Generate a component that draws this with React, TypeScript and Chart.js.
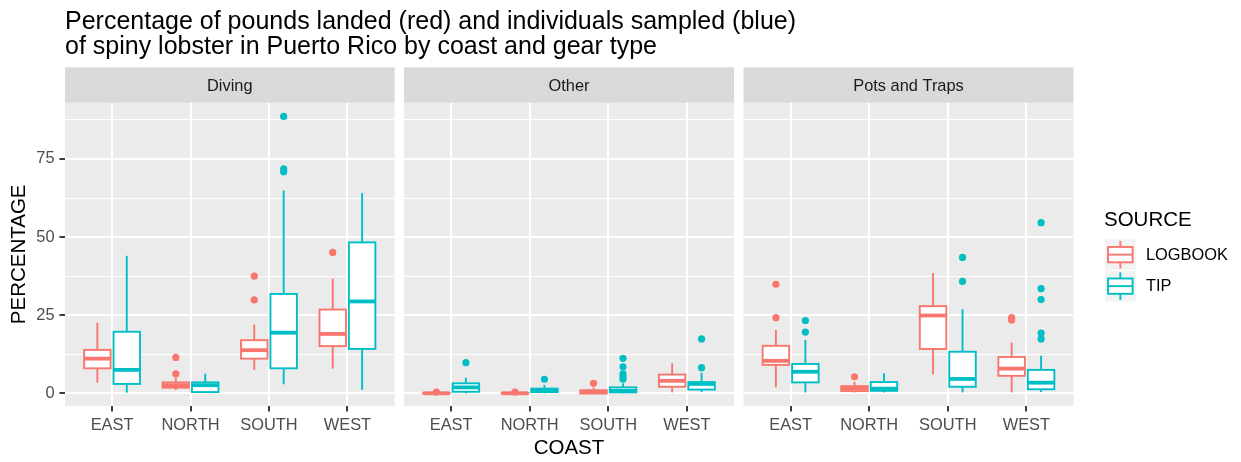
import { useEffect, useRef } from "react";
import { Chart, registerables } from "chart.js";

Chart.register(...registerables);

// ---------- text ----------
const TITLE_LINES = [
  "Percentage of pounds landed (red) and individuals sampled (blue)",
  "of spiny lobster in Puerto Rico by coast and gear type",
];
const COASTS = ["EAST", "NORTH", "SOUTH", "WEST"];
const GEARS = ["Diving", "Other", "Pots and Traps"];
const SOURCES = ["LOGBOOK", "TIP"];
const X_TITLE = "COAST";
const Y_TITLE = "PERCENTAGE";
const LEGEND_TITLE = "SOURCE";
const Y_MAJOR = [0, 25, 50, 75];
const Y_MINOR = [12.5, 37.5, 62.5, 87.5];

// ---------- data: [lower whisker, Q1, median, Q3, upper whisker] per coast ----------
const DIVING_LOGBOOK = [
  [3.4, 8.0, 11.1, 13.9, 22.6],
  [1.1, 1.8, 2.6, 3.5, 5.0],
  [7.5, 11.1, 13.8, 17.0, 22.0],
  [7.9, 15.1, 19.0, 26.8, 36.7],
];
const DIVING_LOGBOOK_OUTLIERS = [[], [11.5, 6.2], [37.5, 29.9], [45.1]];
const DIVING_TIP = [
  [0.2, 3.0, 7.5, 19.7, 44.0],
  [0.1, 0.4, 2.6, 3.5, 6.3],
  [2.9, 8.0, 19.4, 31.8, 64.9],
  [1.1, 14.2, 29.4, 48.3, 64.1],
];
const DIVING_TIP_OUTLIERS = [[], [], [88.6, 71.8, 70.9], []];

const OTHER_LOGBOOK = [
  [0, 0, 0.02, 0.1, 0.2],
  [0, 0, 0.02, 0.1, 0.2],
  [0, 0, 0.3, 1.0, 1.9],
  [0.3, 2.1, 4.0, 6.0, 9.6],
];
const OTHER_LOGBOOK_OUTLIERS = [[0.35], [0.35], [3.2], []];
const OTHER_TIP = [
  [0, 0.5, 1.9, 3.2, 5.0],
  [0, 0.4, 1.0, 1.5, 2.7],
  [0, 0.3, 0.8, 1.9, 3.2],
  [0.4, 1.2, 3.0, 3.6, 6.6],
];
const OTHER_TIP_OUTLIERS = [[9.8], [4.5], [11.2, 8.5, 6.2, 5.3, 4.5], [17.4, 8.2]];

const POTS_LOGBOOK = [
  [1.9, 9.1, 10.4, 15.2, 20.3],
  [0.3, 0.7, 1.5, 2.3, 3.7],
  [6.1, 14.2, 24.9, 27.9, 38.5],
  [0.3, 5.6, 7.9, 11.6, 16.2],
];
const POTS_LOGBOOK_OUTLIERS = [[34.9, 24.2], [5.3], [], [24.2, 23.5]];
const POTS_TIP = [
  [0.3, 3.5, 6.9, 9.4, 17.1],
  [0.3, 0.8, 1.5, 3.6, 6.4],
  [0.3, 2.1, 4.6, 13.3, 26.9],
  [0.4, 1.3, 3.4, 7.5, 12.0],
];
const POTS_TIP_OUTLIERS = [[23.3, 19.6], [], [43.5, 35.8], [54.6, 33.5, 30.0, 19.3, 17.4]];

const PANEL_STATS = [
  [DIVING_LOGBOOK, DIVING_TIP],
  [OTHER_LOGBOOK, OTHER_TIP],
  [POTS_LOGBOOK, POTS_TIP],
];
const PANEL_OUTLIERS = [
  [DIVING_LOGBOOK_OUTLIERS, DIVING_TIP_OUTLIERS],
  [OTHER_LOGBOOK_OUTLIERS, OTHER_TIP_OUTLIERS],
  [POTS_LOGBOOK_OUTLIERS, POTS_TIP_OUTLIERS],
];

// ---------- style / layout ----------
const FONT = '"Liberation Sans", Arial, Helvetica, sans-serif';
const COLORS = ["#F8766D", "#00BFC4"];
const W = 1241;
const H = 462;
const PANEL_X = [
  [65, 394.5],
  [404, 734],
  [743.5, 1073.5],
];
const PANEL_TOP = 102.7;
const STRIP_H = 35.4;
const X_AXIS_H = 56;
const Y_AXIS_W = 65;
const Y_MIN = -4.06;
const Y_MAX = 93.0;
const X_MIN = -0.6;
const X_MAX = 3.6;
const DODGE = [-0.1875, 0.1875];
const BOX_W = 0.3375;
const LW = 1.9;
const TICK_FONT = 16.4;
const AXIS_TITLE_FONT = 20.5;
const PLOT_TITLE_FONT = 25;
const POINT_R = 3.6;

function line(ctx: CanvasRenderingContext2D, x1: number, y1: number, x2: number, y2: number) {
  ctx.beginPath();
  ctx.moveTo(x1, y1);
  ctx.lineTo(x2, y2);
  ctx.stroke();
}

function drawLegend(ctx: CanvasRenderingContext2D) {
  ctx.save();
  ctx.fillStyle = "#000000";
  ctx.textAlign = "left";
  ctx.textBaseline = "alphabetic";
  ctx.font = `${AXIS_TITLE_FONT}px ${FONT}`;
  ctx.fillText(LEGEND_TITLE, 1104, 225.7);
  const kx = 1105;
  const ks = 30.7;
  SOURCES.forEach((src, i) => {
    const ky = 239.3 + i * (ks + 0.8);
    ctx.fillStyle = "#F2F2F2";
    ctx.fillRect(kx, ky, ks, ks);
    ctx.strokeStyle = COLORS[i];
    ctx.lineWidth = LW;
    const cx = kx + ks / 2;
    line(ctx, cx, ky + 0.05 * ks, cx, ky + 0.25 * ks);
    line(ctx, cx, ky + 0.75 * ks, cx, ky + 0.95 * ks);
    ctx.fillStyle = "#FFFFFF";
    ctx.fillRect(kx + 0.1 * ks, ky + 0.25 * ks, 0.8 * ks, 0.5 * ks);
    ctx.strokeRect(kx + 0.1 * ks, ky + 0.25 * ks, 0.8 * ks, 0.5 * ks);
    line(ctx, kx + 0.1 * ks, ky + 0.5 * ks, kx + 0.9 * ks, ky + 0.5 * ks);
    ctx.fillStyle = "#000000";
    ctx.font = `${TICK_FONT}px ${FONT}`;
    ctx.textBaseline = "middle";
    ctx.fillText(src, 1146, ky + ks / 2 + 0.5);
    ctx.textBaseline = "alphabetic";
  });
  ctx.restore();
}

function panelPlugin(pi: number) {
  return {
    id: "ggpanel" + pi,
    beforeDraw(chart: any) {
      const { ctx, chartArea: a } = chart;
      ctx.save();
      ctx.fillStyle = "#EBEBEB";
      ctx.fillRect(a.left, a.top, a.right - a.left, a.bottom - a.top);
      ctx.fillStyle = "#D9D9D9";
      ctx.fillRect(a.left, a.top - STRIP_H, a.right - a.left, STRIP_H);
      ctx.fillStyle = "#1A1A1A";
      ctx.font = `${TICK_FONT}px ${FONT}`;
      ctx.textAlign = "center";
      ctx.textBaseline = "middle";
      ctx.fillText(GEARS[pi], (a.left + a.right) / 2, a.top - STRIP_H / 2 + 1.2);
      ctx.restore();
    },
    afterDatasetsDraw(chart: any) {
      const { ctx } = chart;
      const x = chart.scales.x;
      const y = chart.scales.y;
      ctx.save();
      PANEL_STATS[pi].forEach((src: number[][], si: number) => {
        ctx.strokeStyle = COLORS[si];
        src.forEach((s: number[], ci: number) => {
          const cv = ci + DODGE[si];
          const xc = x.getPixelForValue(cv);
          const xl = x.getPixelForValue(cv - BOX_W / 2);
          const xr = x.getPixelForValue(cv + BOX_W / 2);
          const [lo, q1, med, q3, hi] = s.map((v) => y.getPixelForValue(v));
          ctx.lineWidth = LW;
          line(ctx, xc, hi, xc, q3);
          line(ctx, xc, q1, xc, lo);
          ctx.fillStyle = "#FFFFFF";
          ctx.fillRect(xl, q3, xr - xl, q1 - q3);
          ctx.strokeRect(xl, q3, xr - xl, q1 - q3);
          ctx.lineWidth = LW * 2;
          line(ctx, xl, med, xr, med);
        });
      });
      ctx.restore();
    },
    afterDraw(chart: any) {
      const { ctx } = chart;
      if (pi === 0) {
        ctx.save();
        ctx.fillStyle = "#000000";
        ctx.textAlign = "left";
        ctx.textBaseline = "alphabetic";
        ctx.font = `${PLOT_TITLE_FONT}px ${FONT}`;
        ctx.fillText(TITLE_LINES[0], 65, 28.5);
        ctx.fillText(TITLE_LINES[1], 65, 53.5);
        ctx.restore();
      }
      if (pi === 2) drawLegend(ctx);
    },
  };
}

const isMajor = (v: number) => Y_MAJOR.includes(v);

function makeConfig(pi: number): any {
  const [pl, pr] = PANEL_X[pi];
  const first = pi === 0;
  const datasets = SOURCES.map((src, si) => ({
    label: src,
    data: PANEL_OUTLIERS[pi][si].flatMap((vals: number[], ci: number) =>
      vals.map((v) => ({ x: ci + DODGE[si], y: v }))
    ),
    backgroundColor: COLORS[si],
    borderColor: COLORS[si],
    pointRadius: POINT_R,
    pointHoverRadius: POINT_R,
    pointBorderWidth: 0,
  }));
  return {
    type: "scatter",
    data: { datasets },
    plugins: [panelPlugin(pi)],
    options: {
      animation: false,
      responsive: false,
      maintainAspectRatio: false,
      events: [],
      layout: {
        padding: {
          left: first ? 0 : pl,
          right: W - pr,
          top: PANEL_TOP,
          bottom: 0,
        },
      },
      plugins: {
        legend: { display: false },
        title: { display: false },
        tooltip: { enabled: false },
      },
      scales: {
        x: {
          type: "linear",
          min: X_MIN,
          max: X_MAX,
          afterBuildTicks: (s: any) => {
            s.ticks = COASTS.map((_, i) => ({ value: i }));
          },
          afterFit: (s: any) => {
            s.height = X_AXIS_H;
          },
          border: { display: false },
          grid: {
            color: "#FFFFFF",
            lineWidth: 2,
            drawTicks: true,
            tickLength: 5.5,
            tickColor: "#333333",
            tickWidth: LW,
          },
          ticks: {
            color: "#4D4D4D",
            font: { family: FONT, size: TICK_FONT },
            padding: 4.6,
            autoSkip: false,
            maxRotation: 0,
            callback: (v: number) => COASTS[v] ?? "",
          },
          title: {
            display: pi === 1,
            text: X_TITLE,
            color: "#000000",
            font: { family: FONT, size: AXIS_TITLE_FONT },
            padding: { top: 0, bottom: 1.4 },
          },
        },
        y: {
          type: "linear",
          min: Y_MIN,
          max: Y_MAX,
          afterBuildTicks: (s: any) => {
            s.ticks = [...Y_MAJOR, ...Y_MINOR].sort((a, b) => a - b).map((v) => ({ value: v }));
          },
          afterFit: (s: any) => {
            s.width = first ? Y_AXIS_W : 0;
          },
          border: { display: false },
          grid: {
            color: "#FFFFFF",
            lineWidth: (c: any) => (c.tick && isMajor(c.tick.value) ? 2 : 1),
            drawTicks: first,
            tickLength: 5.5,
            tickColor: (c: any) => (c.tick && isMajor(c.tick.value) ? "#333333" : "rgba(0,0,0,0)"),
            tickWidth: LW,
          },
          ticks: {
            display: first,
            color: "#4D4D4D",
            font: { family: FONT, size: TICK_FONT },
            padding: 5,
            autoSkip: false,
            callback: (v: number) => (isMajor(v) ? String(v) : ""),
          },
          title: {
            display: first,
            text: Y_TITLE,
            color: "#000000",
            font: { family: FONT, size: AXIS_TITLE_FONT },
            padding: { top: 7, bottom: 0 },
          },
        },
      },
    },
  };
}

export default function App() {
  const refs = useRef<(HTMLCanvasElement | null)[]>([]);
  useEffect(() => {
    document.body.style.margin = "0";
    const charts = GEARS.map((_, i) => new Chart(refs.current[i] as HTMLCanvasElement, makeConfig(i)));
    return () => charts.forEach((c) => c.destroy());
  }, []);
  return (
    <div style={{ position: "relative", width: W, height: H, background: "#FFFFFF", overflow: "hidden" }}>
      {GEARS.map((g, i) => (
        <canvas
          key={g}
          ref={(el) => {
            refs.current[i] = el;
          }}
          width={W}
          height={H}
          style={{ position: "absolute", left: 0, top: 0, width: W, height: H }}
        />
      ))}
    </div>
  );
}
